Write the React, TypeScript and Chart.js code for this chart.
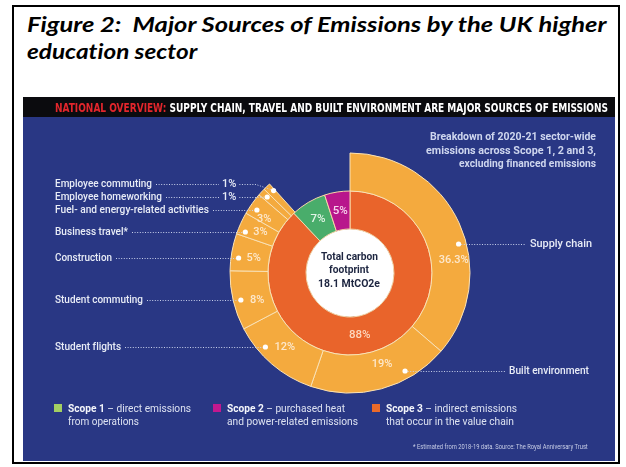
import { useEffect, useRef } from 'react';
import { Chart, registerables } from 'chart.js';

Chart.register(...registerables);

// ---------- data ----------
const titleLines = ['Figure 2:  Major Sources of Emissions by the UK higher', 'education sector'];
const headerRed = 'NATIONAL OVERVIEW:';
const headerWhite = ' SUPPLY CHAIN, TRAVEL AND BUILT ENVIRONMENT ARE MAJOR SOURCES OF EMISSIONS';
const subtitleLines = ['Breakdown of 2020-21 sector-wide', 'emissions across Scope 1, 2 and 3,', 'excluding financed emissions'];
const centerLines = ['Total carbon', 'footprint', '18.1 MtCO2e'];

const outerCategories = [
  'Supply chain',
  'Built environment',
  'Student flights',
  'Student commuting',
  'Construction',
  'Business travel*',
  'Fuel- and energy-related activities',
  'Employee homeworking',
  'Employee commuting',
];
const outerValues = [36.3, 19, 12, 8, 5, 3, 3, 1, 1];

const scopeNames = ['Scope 3', 'Scope 1', 'Scope 2'];
const scopeValues = [88, 7, 5];

const legendNames = ['Scope 1', 'Scope 2', 'Scope 3'];
const legendLine1 = [' – direct emissions', ' – purchased heat', ' – indirect emissions'];
const legendLine2 = ['from operations', 'and power-related emissions', 'that occur in the value chain'];
const footnote = '* Estimated from 2018-19 data. Source: The Royal Anniversary Trust';

// ---------- styles / layout ----------
const BLUE = '#293784';
const OUTER = '#f4aa3e';
const OUTER_BORDER = '#fbe2b4';
const SCOPE_COLORS = ['#e9642b', '#49ad6b', '#b8178c'];
const LEGEND_COLORS = ['#a3cf62', '#c2188f', '#ea6a2a'];
const INNER_LABEL_COLORS = ['#fcd9bf', '#e2f4e6', '#f8d6ee'];
const INNER_LABEL_FRAC = [0.54, 0.5, 0.5];
const LABEL_COLOR = '#e8ecf6';
const PCT_COLOR = '#fde8cc';
const LEADER_COLOR = '#c8d0ea';

const TITLE_FONT = 'Lato, "Open Sans", sans-serif';
const COND_FONT = '"Liberation Sans Narrow", "DejaVu Sans Condensed", Roboto, sans-serif';
const SANS = 'Roboto, "Noto Sans", sans-serif';

// callout layout, aligned with outerCategories
const calloutLayout: any[] = [
  { side: 'R', textX: 530, textW: 62, y: 244, pct: { dx: -5, dy: 16, align: 'center' } },
  { side: 'R', textX: 509, textW: 80, y: 371, pct: { dx: -23, dy: -7, align: 'center' } },
  { side: 'L', textX: 55, textW: 66, y: 347, pct: { dx: 9, dy: 0, align: 'left' } },
  { side: 'L', textX: 55, textW: 88, y: 300, pct: { dx: 9, dy: 0, align: 'left' } },
  { side: 'L', textX: 55, textW: 57, y: 258, pct: { dx: 8, dy: 0, align: 'left' } },
  { side: 'L', textX: 55, textW: 73, y: 232, pct: { dx: 8, dy: 0, align: 'left' } },
  { side: 'L', textX: 55, textW: 154, y: 210, pct: { dx: 0, dy: 9, align: 'left' } },
  { side: 'L', textX: 55, textW: 107, y: 197, pct: { inlineX: 222, bendX: 256 } },
  { side: 'L', textX: 55, textW: 97, y: 184, pct: { inlineX: 222, bendX: 256 } },
];

// ---------- text fitting ----------
let measurer: CanvasRenderingContext2D | null = null;
function textWidth(text: string, font: string) {
  if (!measurer) measurer = document.createElement('canvas').getContext('2d');
  measurer!.font = font;
  return measurer!.measureText(text).width;
}

type Part = { t: string; w?: number; c?: string };
function Fit(props: {
  x: number; cy: number; w: number; size: number; family: string; weight?: number;
  italic?: boolean; color: string; parts: Part[];
}) {
  const { x, cy, w, size, family, weight = 400, italic = false, color, parts } = props;
  const natural = parts.reduce(
    (s, p) => s + textWidth(p.t, `${italic ? 'italic ' : ''}${p.w ?? weight} ${size}px ${family}`),
    0
  );
  const sx = natural > 0 ? w / natural : 1;
  const L = Math.round(size * 1.3);
  return (
    <div
      style={{
        position: 'absolute', left: x, top: cy - L / 2, height: L, lineHeight: `${L}px`,
        whiteSpace: 'pre', fontFamily: family, fontSize: size, fontWeight: weight,
        fontStyle: italic ? 'italic' : 'normal', color, transform: `scaleX(${sx})`,
        transformOrigin: '0 50%', fontVariantLigatures: 'none',
      }}
    >
      {parts.map((p, i) => (
        <span key={i} style={{ fontWeight: p.w ?? weight, color: p.c ?? color }}>{p.t}</span>
      ))}
    </div>
  );
}

// ---------- chart plugin ----------
function fmt(v: number) {
  return `${v}%`;
}

const calloutPlugin = {
  id: 'callouts',
  beforeDatasetsDraw(chart: any) {
    const ctx = chart.ctx;
    const a = chart.getDatasetMeta(1).data[0];
    ctx.save();
    ctx.fillStyle = '#ffffff';
    ctx.beginPath();
    ctx.arc(a.x, a.y, a.innerRadius, 0, Math.PI * 2);
    ctx.fill();
    ctx.restore();
  },
  afterDatasetsDraw(chart: any) {
    const ctx: CanvasRenderingContext2D = chart.ctx;
    const meta = chart.getDatasetMeta(0);
    ctx.save();
    ctx.font = `500 11px ${SANS}`;
    ctx.textBaseline = 'middle';
    outerValues.forEach((v, i) => {
      const arc = meta.data[i];
      const { x: cx, y: cy, startAngle, endAngle, innerRadius, outerRadius } = arc;
      const L = calloutLayout[i];
      const r = innerRadius + 0.8 * (outerRadius - innerRadius);
      const dy = L.y - cy;
      const dx = Math.sqrt(Math.max(r * r - dy * dy, 0)) * (L.side === 'L' ? -1 : 1);
      let a = Math.atan2(dy, dx);
      if (a < -Math.PI / 2) a += Math.PI * 2;
      const m = 0.2 * (endAngle - startAngle);
      a = Math.min(Math.max(a, startAngle + m), endAngle - m);
      const px = cx + r * Math.cos(a);
      const py = cy + r * Math.sin(a);
      const ly = Math.round(L.y) + 0.5;

      // leader
      ctx.strokeStyle = LEADER_COLOR;
      ctx.lineWidth = 1;
      ctx.setLineDash([1, 1.6]);
      ctx.beginPath();
      if (L.side === 'L') {
        const sx = L.textX + L.textW + 4;
        if (L.pct.inlineX !== undefined) {
          const pw = ctx.measureText(fmt(v)).width;
          ctx.moveTo(sx, ly);
          ctx.lineTo(L.pct.inlineX - 3, ly);
          ctx.moveTo(L.pct.inlineX + pw + 3, ly);
          ctx.lineTo(L.pct.bendX, ly);
          ctx.lineTo(px, py);
        } else if (Math.abs(py - L.y) < 1) {
          ctx.moveTo(sx, ly);
          ctx.lineTo(px, ly);
        } else {
          ctx.moveTo(sx, ly);
          ctx.lineTo(px - 10, ly);
          ctx.lineTo(px, py);
        }
      } else {
        ctx.moveTo(px, ly);
        ctx.lineTo(L.textX - 4, ly);
      }
      ctx.stroke();
      ctx.setLineDash([]);

      // dot
      ctx.fillStyle = '#ffffff';
      ctx.beginPath();
      ctx.arc(px, py, 2.6, 0, Math.PI * 2);
      ctx.fill();

      // percentage label
      if (L.pct.inlineX !== undefined) {
        ctx.fillStyle = LABEL_COLOR;
        ctx.textAlign = 'left';
        ctx.fillText(fmt(v), L.pct.inlineX, L.y);
      } else {
        ctx.fillStyle = PCT_COLOR;
        ctx.textAlign = L.pct.align;
        ctx.fillText(fmt(v), px + L.pct.dx, py + L.pct.dy);
      }
    });

    // inner ring labels
    const inner = chart.getDatasetMeta(1);
    ctx.textAlign = 'center';
    ctx.font = `500 11.5px ${SANS}`;
    scopeValues.forEach((v, i) => {
      const arc = inner.data[i];
      const ang = arc.startAngle + INNER_LABEL_FRAC[i] * (arc.endAngle - arc.startAngle);
      const rr = (arc.innerRadius + arc.outerRadius) / 2;
      ctx.fillStyle = INNER_LABEL_COLORS[i];
      ctx.fillText(fmt(v), arc.x + rr * Math.cos(ang), arc.y + rr * Math.sin(ang));
    });
    ctx.restore();
  },
};

export default function App() {
  const ref = useRef<HTMLCanvasElement>(null);

  useEffect(() => {
    const canvas = ref.current;
    if (!canvas) return;
    const outerSum = outerValues.reduce((s, v) => s + v, 0);
    const chart = new Chart(canvas, {
      type: 'doughnut',
      data: {
        labels: [...outerCategories, ''],
        datasets: [
          {
            data: [...outerValues, 100 - outerSum],
            backgroundColor: [...outerValues.map(() => OUTER), 'rgba(0,0,0,0)'],
            borderColor: [...outerValues.map(() => OUTER_BORDER), 'rgba(0,0,0,0)'],
            borderWidth: [...outerValues.map(() => 1), 0],
          },
          {
            data: scopeValues,
            backgroundColor: SCOPE_COLORS,
            borderColor: '#f7d8a8',
            borderWidth: 1,
          },
        ],
      },
      options: {
        responsive: false,
        animation: false,
        devicePixelRatio: 1,
        cutout: 44,
        events: [],
        layout: { padding: { left: 229.5, top: 152.5, right: 155.5, bottom: 73.5 } },
        plugins: { legend: { display: false }, tooltip: { enabled: false } },
      } as any,
      plugins: [calloutPlugin as any],
    });
    return () => chart.destroy();
  }, []);

  return (
    <div style={{ position: 'absolute', left: 0, top: 0, width: 626, height: 467, background: '#ffffff', overflow: 'hidden' }}>
      <div style={{ position: 'absolute', left: 12, top: 5, width: 608, height: 459, border: '2px solid #000', boxSizing: 'border-box' }} />
      <Fit x={27} cy={23.9} w={581} size={21} family={TITLE_FONT} weight={700} italic color="#000" parts={[{ t: titleLines[0] }]} />
      <Fit x={27} cy={50.9} w={170} size={21} family={TITLE_FONT} weight={700} italic color="#000" parts={[{ t: titleLines[1] }]} />

      <div style={{ position: 'absolute', left: 23, top: 97, width: 592, height: 364, background: BLUE }} />
      <div style={{ position: 'absolute', left: 23, top: 97, width: 592, height: 20, background: '#0b0b0e' }} />

      <canvas ref={ref} width={626} height={467} style={{ position: 'absolute', left: 0, top: 0, width: 626, height: 467, zIndex: 1 }} />

      <div style={{ position: 'absolute', left: 0, top: 0, zIndex: 2 }}>
        <Fit x={55} cy={107.5} w={553} size={12.5} family={COND_FONT} weight={700} color="#ffffff"
          parts={[{ t: headerRed, c: '#e3262c' }, { t: headerWhite }]} />

        {subtitleLines.map((t, i) => {
          const ws = [166, 170, 137];
          return (
            <Fit key={t} x={596 - ws[i]} cy={137 + i * 13.5} w={ws[i]} size={11} family={SANS} weight={700}
              color="#ced6ee" parts={[{ t }]} />
          );
        })}

        {outerCategories.map((t, i) => {
          const L = calloutLayout[i];
          return (
            <Fit key={t} x={L.textX} cy={L.y} w={L.textW} size={11} family={SANS} weight={500}
              color={LABEL_COLOR} parts={[{ t }]} />
          );
        })}

        {centerLines.map((t, i) => {
          const ws = [57, 40, 62];
          return (
            <Fit key={t} x={349 - ws[i] / 2} cy={256 + i * 13.5} w={ws[i]} size={11.5} family={SANS} weight={700}
              color="#1d2540" parts={[{ t }]} />
          );
        })}

        {legendNames.map((n, i) => {
          const xs = [54, 213, 372];
          const w1 = [123, 118, 131];
          const w2 = [71, 131, 128];
          return (
            <div key={n}>
              <div style={{ position: 'absolute', left: xs[i], top: 404, width: 8, height: 8, background: LEGEND_COLORS[i] }} />
              <Fit x={xs[i] + 14} cy={408.5} w={w1[i]} size={11} family={SANS} weight={400} color="#dde2f1"
                parts={[{ t: n, w: 700, c: '#f4f6fb' }, { t: legendLine1[i] }]} />
              <Fit x={xs[i] + 14} cy={422} w={w2[i]} size={11} family={SANS} weight={400} color="#dde2f1"
                parts={[{ t: legendLine2[i] }]} />
            </div>
          );
        })}

        <Fit x={413} cy={447} w={175} size={6.5} family={SANS} weight={400} color="#c7cde6" parts={[{ t: footnote }]} />
      </div>
    </div>
  );
}
